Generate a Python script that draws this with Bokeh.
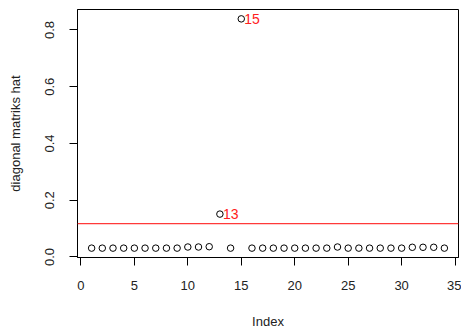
from bokeh.plotting import figure
from bokeh.models import FixedTicker, PrintfTickFormatter, Span, ColumnDataSource, Range1d
from bokeh.core.properties import value
from bokeh.embed import file_html
from bokeh.resources import INLINE

# data
index = list(range(1, 35))
hat_values = [0.031, 0.031, 0.031, 0.031, 0.031, 0.031, 0.031, 0.031, 0.031,
              0.035, 0.035, 0.036, 0.151, 0.031, 0.839, 0.031, 0.031, 0.031,
              0.031, 0.031, 0.031, 0.031, 0.031, 0.035, 0.031, 0.031, 0.031,
              0.031, 0.031, 0.031, 0.034, 0.034, 0.034, 0.031]
threshold = 0.1176
outliers = [15, 13]
x_ticks = [0, 5, 10, 15, 20, 25, 30, 35]
y_ticks = [0.0, 0.2, 0.4, 0.6, 0.8]

FONT = "Liberation Sans"
TXT = "#222222"

p = figure(width=461, height=331, output_backend="svg", toolbar_location=None,
           x_range=Range1d(-0.32, 35.32), y_range=Range1d(-0.002, 0.872),
           min_border_left=77, min_border_right=3, min_border_top=9, min_border_bottom=72)
p.grid.visible = False
p.outline_line_color = "black"
p.outline_line_width = 1
p.background_fill_color = "white"
p.border_fill_color = "white"

p.scatter(index, hat_values, marker="circle", size=6.5, fill_color=None,
          line_color="black", line_width=1)

p.add_layout(Span(location=threshold, dimension="width", line_color="#ff3a3a", line_width=1.3))

lx = [index[i - 1] for i in outliers]
ly = [hat_values[i - 1] for i in outliers]
src = ColumnDataSource(dict(x=lx, y=ly, t=[str(i) for i in outliers]))
p.text(x="x", y="y", text="t", source=src, x_offset=3, text_align="left",
       text_baseline="middle", text_color="#ff2020", text_font=value(FONT),
       text_font_size="14px")

for ax in (p.xaxis[0], p.yaxis[0]):
    ax.axis_line_color = "black"
    ax.major_tick_line_color = "black"
    ax.major_tick_out = 8
    ax.major_tick_in = 0
    ax.minor_tick_line_color = None
    ax.major_label_text_font = FONT
    ax.major_label_text_font_size = "13px"
    ax.major_label_text_color = TXT
    ax.axis_label_text_font = FONT
    ax.axis_label_text_font_size = "13px"
    ax.axis_label_text_font_style = "normal"
    ax.axis_label_text_color = TXT

p.xaxis.ticker = FixedTicker(ticks=x_ticks)
p.yaxis.ticker = FixedTicker(ticks=y_ticks)
p.yaxis.formatter = PrintfTickFormatter(format="%.1f")
p.yaxis.major_label_orientation = "vertical"
p.xaxis.axis_label = "Index"
p.yaxis.axis_label = "diagonal matriks hat"
p.xaxis.major_label_standoff = 15
p.yaxis.major_label_standoff = 15
p.xaxis.axis_label_standoff = 21
p.yaxis.axis_label_standoff = 20

open("out.html", "w").write(file_html(p, INLINE))
